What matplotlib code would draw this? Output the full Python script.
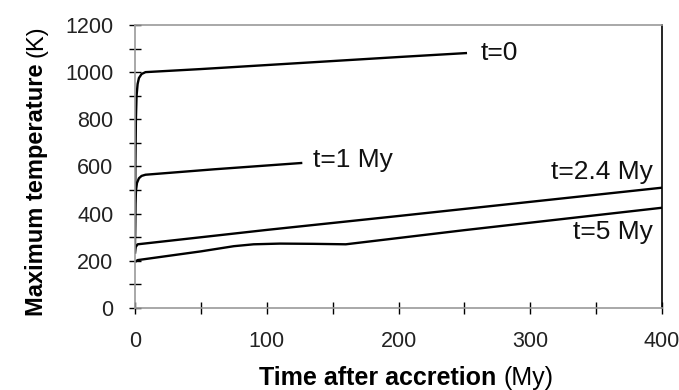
import matplotlib
matplotlib.use("Agg")
import matplotlib.pyplot as plt
from matplotlib.ticker import MultipleLocator

plt.rcParams['font.family'] = ['Liberation Sans', 'DejaVu Sans']

# curves: time after accretion (My) vs max temperature (K)
t0_x = [0, 0.3, 0.7, 1.2, 2, 3, 5, 8, 50, 100, 150, 200, 252]
t0_y = [250, 600, 800, 900, 950, 975, 992, 1000, 1013, 1030, 1047, 1064, 1081]
t1_x = [0, 0.3, 0.8, 1.5, 3, 5, 8, 60, 127]
t1_y = [300, 440, 500, 530, 550, 560, 565, 588, 615]
t24_x = [0, 0.5, 2, 100, 200, 300, 400]
t24_y = [230, 258, 270, 331, 390, 450, 510]
t5_x = [0, 2, 50, 75, 90, 110, 135, 160, 250, 400]
t5_y = [195, 203, 240, 262, 270, 273, 272, 270, 330, 425]

labels = ['t=0', 't=1 My', 't=2.4 My', 't=5 My']
label_pos = [(262, 1081), (135, 628), (393, 577), (393, 322)]
label_ha = ['left', 'left', 'right', 'right']

fig = plt.figure(figsize=(6.79, 3.9), dpi=100)
ax = fig.add_axes([0.1988, 0.2103, 0.7762, 0.7257])

for xs, ys in [(t0_x, t0_y), (t1_x, t1_y), (t24_x, t24_y), (t5_x, t5_y)]:
    ax.plot(xs, ys, color='black', lw=1.7, solid_capstyle='butt')

for lab, (x, y), ha in zip(labels, label_pos, label_ha):
    ax.text(x, y, lab, fontsize=19, va='center', ha=ha, color='#111111')

ax.set_xlim(0, 400)
ax.set_ylim(0, 1200)
ax.xaxis.set_major_locator(MultipleLocator(100))
ax.xaxis.set_minor_locator(MultipleLocator(50))
ax.yaxis.set_major_locator(MultipleLocator(200))
ax.yaxis.set_minor_locator(MultipleLocator(100))
ax.tick_params(which='both', direction='inout', length=9, width=1, labelsize=15.5,
               color='black', labelcolor='#222222')
ax.tick_params(axis='x', pad=12)
ax.tick_params(axis='y', pad=11)

for s in ['top', 'bottom', 'left']:
    ax.spines[s].set_color('#999999')
    ax.spines[s].set_linewidth(1.2)
ax.spines['right'].set_color('black')
ax.spines['right'].set_linewidth(1.2)

# axis titles: bold part + normal units
fig.canvas.draw()
r = fig.canvas.get_renderer()
xb = fig.text(0.5, 0.012, 'Time after accretion ', fontsize=18, fontweight='bold',
              ha='left', va='baseline')
xu = fig.text(0.5, 0.012, '(My)', fontsize=18, ha='left', va='baseline')
wb = xb.get_window_extent(r).width
wu = xu.get_window_extent(r).width
cx = 406
start = cx - (wb + wu) / 2
xb.set_x(start / fig.bbox.width)
xu.set_x((start + wb) / fig.bbox.width)

yb = fig.text(0.063, 0.5, 'Maximum temperature ', fontsize=17, fontweight='bold',
              rotation=90, ha='left', va='baseline', rotation_mode='anchor')
yu = fig.text(0.063, 0.5, '(K)', fontsize=17, rotation=90, ha='left', va='baseline',
              rotation_mode='anchor')
hb = yb.get_window_extent(r).height
hu = yu.get_window_extent(r).height
cy = fig.bbox.height - 171
ystart = cy - (hb + hu) / 2
yb.set_y(ystart / fig.bbox.height)
yu.set_y((ystart + hb) / fig.bbox.height)

fig.savefig('out.png', dpi=100)
